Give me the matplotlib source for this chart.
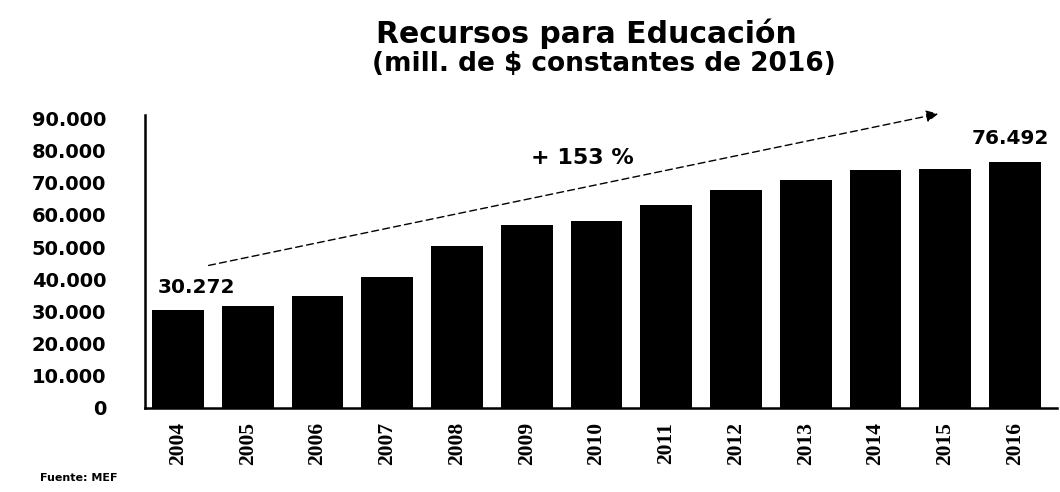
import matplotlib.pyplot as plt

years = ['2004', '2005', '2006', '2007', '2008', '2009', '2010',
         '2011', '2012', '2013', '2014', '2015', '2016']
recursos = [30272, 31700, 34700, 40800, 50200, 57000, 58100,
            63000, 67800, 70700, 73800, 74200, 76492]
y_ticks = [0, 10000, 20000, 30000, 40000, 50000, 60000, 70000, 80000, 90000]
y_tick_labels = ['0', '10.000', '20.000', '30.000', '40.000', '50.000',
                 '60.000', '70.000', '80.000', '90.000']

fig = plt.figure(figsize=(10.6, 4.92), dpi=100)
ax = fig.add_axes([0.137, 0.171, 0.86, 0.595])

x = list(range(len(years)))
ax.bar(x, recursos, width=0.74, color='black')

ax.set_xlim(-0.47, 12.6)
ax.set_ylim(0, 91000)
ax.spines['top'].set_visible(False)
ax.spines['right'].set_visible(False)
ax.spines['left'].set_linewidth(1.8)
ax.spines['bottom'].set_linewidth(1.8)

ax.set_yticks(y_ticks)
ax.set_yticklabels(y_tick_labels, fontsize=14, fontweight='bold', family='DejaVu Sans')
ax.tick_params(axis='y', length=0, pad=28)

ax.set_xticks(x)
ax.set_xticklabels(years, rotation=90, fontsize=15.5, fontweight='bold',
                   family='Liberation Serif')
ax.tick_params(axis='x', length=0, pad=10)

# etiquetas de primer y ultimo valor
ax.annotate('30.272', (0, recursos[0]), xytext=(13, 10), textcoords='offset points',
            ha='center', va='bottom', fontsize=14.5, fontweight='bold')
ax.annotate('76.492', (12, recursos[12]), xytext=(-3, 10), textcoords='offset points',
            ha='center', va='bottom', fontsize=14.5, fontweight='bold')

# flecha de crecimiento
ax.annotate('', xy=(10.94, 91600), xytext=(0.4, 44100),
            arrowprops=dict(arrowstyle='-|>', linestyle=(0, (5, 3)), lw=1,
                            color='black', mutation_scale=18),
            annotation_clip=False)
ax.text(5.8, 77600, '+ 153 %', ha='center', va='center', fontsize=16, fontweight='bold')

fig.text(0.553, 0.932, 'Recursos para Educación', ha='center', va='center',
         fontsize=21.5, fontweight='bold')
fig.text(0.57, 0.87, '(mill. de $ constantes de 2016)', ha='center', va='center',
         fontsize=19, fontweight='bold')
fig.text(0.038, 0.028, 'Fuente: MEF', ha='left', va='center', fontsize=8, fontweight='bold')

fig.savefig('out.png', dpi=100)
